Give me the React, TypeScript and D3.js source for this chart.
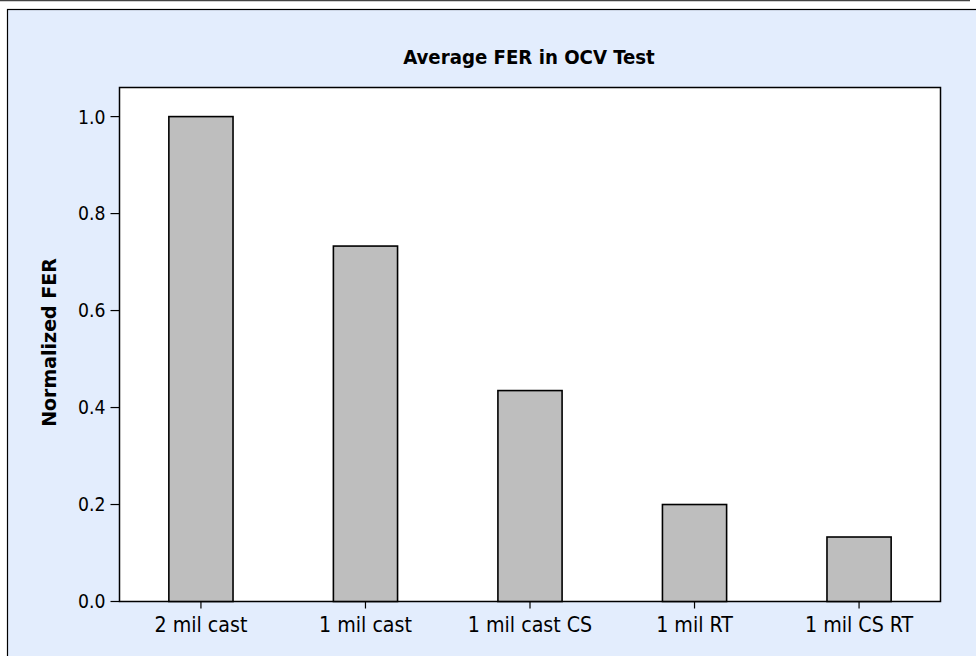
import React from "react";
import * as d3 from "d3";

const categories = ["2 mil cast", "1 mil cast", "1 mil cast CS", "1 mil RT", "1 mil CS RT"];
const values = [1.0, 0.733, 0.435, 0.2, 0.133];
const yTicks = [0.0, 0.2, 0.4, 0.6, 0.8, 1.0];
const title = "Average FER in OCV Test";
const yLabel = "Normalized FER";

const W = 976;
const H = 656;
const plot = { left: 119.5, top: 87.5, right: 940.5, bottom: 601.5 };
const FONT = "'DejaVu Sans', Verdana, sans-serif";
const FONT_C = "'DejaVu Sans Condensed', 'DejaVu Sans', sans-serif";

export default function App() {
  const x = d3
    .scaleBand<string>()
    .domain(categories)
    .range([plot.left, plot.right])
    .paddingInner(0.61)
    .paddingOuter(0.3);
  const y = d3.scaleLinear().domain([0, 1.06]).range([plot.bottom, plot.top]);
  const yOff = y(0) - 601.5;
  const yy = (v: number) => y(v) - yOff;

  return (
    <svg
      width={W}
      height={H}
      style={{ position: "absolute", left: 0, top: 0, background: "#ffffff" }}
      fontFamily={FONT_C}
    >
      <line x1={0} x2={970} y1={0.5} y2={0.5} stroke="#444" strokeWidth={1.5} />
      <rect x={7.5} y={9.5} width={W} height={H} fill="#E3EDFD" stroke="#000" strokeWidth={1.2} />
      <text x={529} y={64} textAnchor="middle" fontWeight="bold" fontSize={20.2} fill="#000">
        {title}
      </text>
      <text
        transform={`translate(56,${(262 + 423) / 2}) rotate(-90)`}
        textAnchor="middle"
        fontWeight="bold"
        fontSize={19}
        fill="#000"
        fontFamily={FONT}
      >
        {yLabel}
      </text>
      <rect
        x={plot.left}
        y={plot.top}
        width={plot.right - plot.left}
        height={plot.bottom - plot.top}
        fill="#fff"
        stroke="#000"
        strokeWidth={1.5}
      />
      {categories.map((c, i) => (
        <rect
          key={c}
          x={x(c)!}
          y={yy(values[i])}
          width={x.bandwidth()}
          height={plot.bottom - yy(values[i])}
          fill="#BEBEBE"
          stroke="#000"
          strokeWidth={1.6}
        />
      ))}
      {yTicks.map((t) => (
        <g key={t}>
          <line x1={plot.left - 9} x2={plot.left} y1={yy(t)} y2={yy(t)} stroke="#000" strokeWidth={1.2} />
          <text x={plot.left - 14} y={yy(t)} dy="0.36em" textAnchor="end" fontSize={19.2} fill="#000">
            {t.toFixed(1)}
          </text>
        </g>
      ))}
      {categories.map((c) => {
        const cx = x(c)! + x.bandwidth() / 2;
        return (
          <g key={c}>
            <line x1={cx} x2={cx} y1={plot.bottom} y2={plot.bottom + 7} stroke="#000" strokeWidth={1.2} />
            <text x={cx} y={632} textAnchor="middle" fontSize={21.2} fill="#000">
              {c}
            </text>
          </g>
        );
      })}
    </svg>
  );
}
